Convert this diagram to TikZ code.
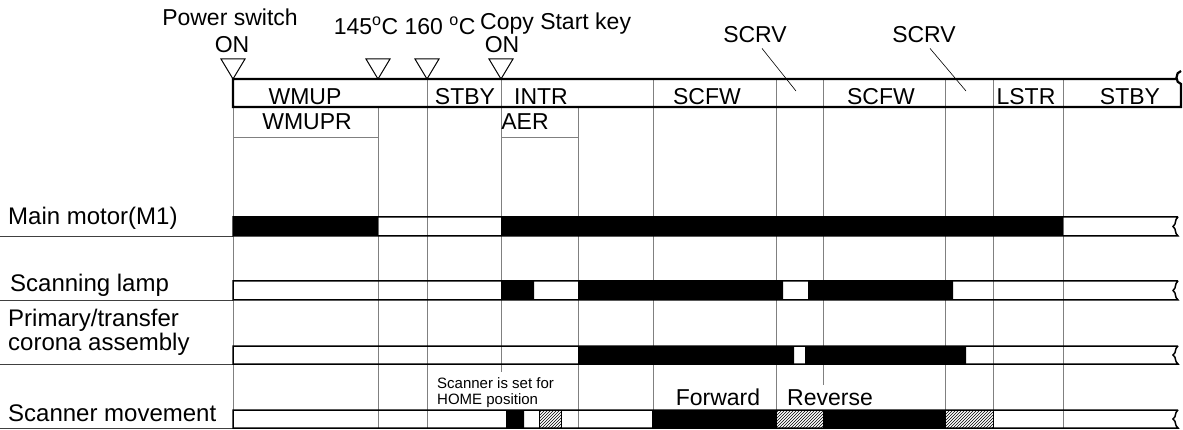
\documentclass[tikz,border=0pt]{standalone}
\usepackage{fontspec}
\setmainfont{Liberation Sans}
\usetikzlibrary{patterns}
\newcommand{\lab}{\fontsize{23}{25}\selectfont}
\newcommand{\biglab}{\fontsize{24}{26}\selectfont}
\newcommand{\sml}{\fontsize{15}{16}\selectfont}

\begin{document}
\begin{tikzpicture}[x=1pt,y=-1pt,
 lbl/.style={font=\lab,inner sep=0pt},
 sname/.style={font=\biglab,inner sep=0pt,anchor=base west},
 grid/.style={gray,line width=.8pt},
 sig/.style={black,line width=1.5pt},
 tri/.style={black,line width=1pt}]
 \useasboundingbox (0,0) rectangle (1183,430);
 % time marks
 \foreach \x/\yb in {233/428,378/428,427/428,501/372,578/428,653/428,776/428,823/385,945/428,993/428,1063/428}
  \draw[grid] (\x,107)--(\x,\yb);
 \foreach \y in {236,300,364,428}
  \draw[black!75,line width=.9pt] (0,\y)--(233,\y);
 % state bar
 \foreach \x in {427,501,653,776,823,945,993,1063}
  \draw[grid] (\x,79)--(\x,107);
 \draw[black,line width=2.2pt] (1176,79)--(233,79)--(233,107)--(1181,107)--(1181,84) .. controls (1175,83) and (1175,72) .. (1181,71);
 \draw[grid] (233,137)--(378,137) (501,137)--(578,137);
 \foreach \x in {233,378,427,501}
  \draw[tri] (\x-12,59)--(\x,79)--(\x+12,59)--cycle;
 % events
 \node[lbl,anchor=base] (pwr) at (230,26) {Power switch};
 \node[lbl,anchor=base] (pwron) at (232,53) {ON};
 \node[lbl,anchor=base] (t145) at (366,35) {145\textsuperscript{o}C};
 \node[lbl,anchor=base] (t160) at (440,35) {160 \textsuperscript{o}C};
 \node[lbl,anchor=base west] (copy) at (480,30) {Copy Start key};
 \node[lbl,anchor=base] (copyon) at (502,53) {ON};
 \node[lbl,anchor=base] (scrva) at (755,43) {SCRV};
 \node[lbl,anchor=base] (scrvb) at (924,43) {SCRV};
 \coordinate (scrvpa) at (796,91);
 \coordinate (scrvpb) at (966,91);
 \draw[black,line width=.6pt] ([shift={(7,5)}]scrva.south)--(scrvpa);
 \draw[black,line width=.6pt] ([shift={(6,5)}]scrvb.south)--(scrvpb);
 % states
 \node[lbl,anchor=base] (wmup) at (305,105) {WMUP};
 \node[lbl,anchor=base] (stbya) at (465,105) {STBY};
 \node[lbl,anchor=base] (intr) at (541,105) {INTR};
 \node[lbl,anchor=base] (scfwa) at (707,105) {SCFW};
 \node[lbl,anchor=base] (scfwb) at (881,105) {SCFW};
 \node[lbl,anchor=base] (lstr) at (1026,105) {LSTR};
 \node[lbl,anchor=base] (stbyb) at (1130,105) {STBY};
 \node[lbl,anchor=base] (wmupr) at (307,130) {WMUPR};
 \node[lbl,anchor=base] (aer) at (525,130) {AER};
 % signal names
 \node[sname] (mmot) at (8,225) {Main motor(M1)};
 \node[sname] (lamp) at (10,291) {Scanning lamp};
 \node[sname] (prim) at (8,326) {Primary/transfer};
 \node[sname] (coro) at (8,350) {corona assembly};
 \node[sname] (scmv) at (8,421) {Scanner movement};
 \node[font=\sml,inner sep=0pt,anchor=base west] (homea) at (437,388) {Scanner is set for};
 \node[font=\sml,inner sep=0pt,anchor=base west] (homeb) at (437,404) {HOME position};
 \node[lbl,anchor=base] (fwd) at (718,405) {Forward};
 \node[lbl,anchor=base] (rev) at (830,405) {Reverse};
 % on periods
 \fill (233,217) rectangle (378,236) (501,217) rectangle (1063,236);
 \fill (501,281) rectangle (534,300) (578,281) rectangle (783,300) (808,281) rectangle (953,300);
 \fill (578,346) rectangle (794,364) (805,346) rectangle (966,364);
 \fill (506,410) rectangle (524,428) (652,410) rectangle (776,428) (823,410) rectangle (945,428);
 \foreach \xa/\xb in {539/561,776/823,945/993}
  \draw[line width=.8pt,pattern=north east lines] (\xa,410) rectangle (\xb,428);
 \foreach \t/\m/\b in {217/226.5/236,281/290.5/300,346/355/364,410/419/428}
  \draw[sig] (1178,\t)--(233,\t)--(233,\b)--(1178,\b) .. controls (1174,\b-3) and (1177,\m+3) .. (1173,\m) .. controls (1177,\m-3) and (1174,\t+3) .. (1178,\t);
\end{tikzpicture}
\end{document}
